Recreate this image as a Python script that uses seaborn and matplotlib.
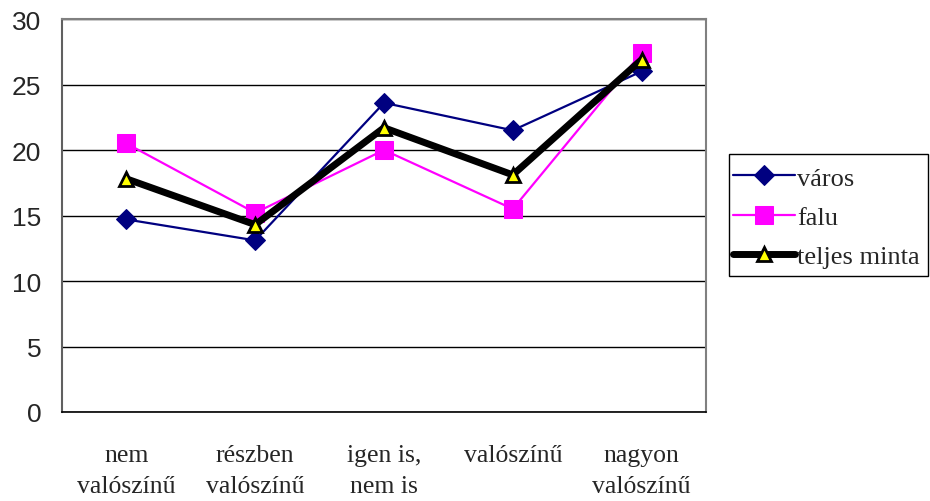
import matplotlib
matplotlib.use("Agg")
import matplotlib.pyplot as plt
import seaborn as sns
import pandas as pd
from matplotlib.patches import Rectangle

# === Data ===
categories = ["nem\nvalószínű", "részben\nvalószínű", "igen is,\nnem is", "valószínű", "nagyon\nvalószínű"]
varos = [14.7, 13.1, 23.6, 21.5, 26.0]
falu = [20.5, 15.2, 20.0, 15.5, 27.4]
teljes = [17.8, 14.3, 21.7, 18.1, 26.9]

pos = list(range(len(categories)))
df = pd.DataFrame({"x": pos * 3,
                   "value": varos + falu + teljes,
                   "series": ["város"] * 5 + ["falu"] * 5 + ["teljes minta"] * 5})

sns.set_style("white")

fig = plt.figure(figsize=(9.3, 5.02), dpi=100)
ax = fig.add_axes([62 / 930, 1 - 413 / 502, (706 - 62) / 930, (413 - 20) / 502])

# one call per series so each gets its own width / marker
sns.lineplot(data=df[df.series == "város"], x="x", y="value", ax=ax, color="#000080",
             linewidth=1.6, marker="D", markersize=10.5, markeredgecolor="#000080", label="város")
sns.lineplot(data=df[df.series == "falu"], x="x", y="value", ax=ax, color="#FF00FF",
             linewidth=1.6, marker="s", markersize=12.5, markeredgecolor="#FF00FF", label="falu")
sns.lineplot(data=df[df.series == "teljes minta"], x="x", y="value", ax=ax, color="black",
             linewidth=5, marker="^", markersize=10, markerfacecolor="#FFFF00",
             markeredgecolor="black", markeredgewidth=2, label="teljes minta")

ax.set_xlim(-0.5, len(categories) - 0.5)
ax.set_ylim(0, 30)
ax.set_yticks(range(0, 31, 5))
ax.yaxis.grid(True, color="black", linewidth=1)
ax.set_axisbelow(True)

ax.set_xticks(pos)
ax.set_xticklabels(categories, family="Liberation Serif", fontsize=18.5, linespacing=1.55)
ax.set_xticks([p - 0.5 for p in pos] + [len(pos) - 0.5], minor=True)
ax.tick_params(axis="x", which="major", length=0, pad=23)
ax.tick_params(axis="x", which="minor", length=8, width=1, color="black", direction="out")
ax.tick_params(axis="y", length=8, width=1, color="black", direction="out", pad=7)
for lab in ax.get_yticklabels():
    lab.set_family("Liberation Sans")
    lab.set_fontsize(19)

ax.set_xlabel("")
ax.set_ylabel("")

for side in ["top", "right"]:
    ax.spines[side].set_color("#808080")
    ax.spines[side].set_linewidth(1.5)
ax.spines["left"].set_color("#606060")
ax.spines["left"].set_linewidth(1.5)
ax.spines["bottom"].set_color("black")
ax.spines["bottom"].set_linewidth(1.2)

# legend: box drawn separately so its padding matches the original
handles, labels = ax.get_legend_handles_labels()
ax.get_legend().remove()
fig.patches.append(Rectangle((729 / 930, 1 - 277 / 502), 199 / 930, 122 / 502,
                             transform=fig.transFigure, fill=False,
                             edgecolor="black", linewidth=1))
fig.legend(handles, labels, loc="center left", bbox_to_anchor=(733 / 930, 1 - 218 / 502),
           borderaxespad=0, borderpad=0, frameon=False, handlelength=2.35,
           handletextpad=0.08, labelspacing=0.59,
           prop={"family": "Liberation Serif", "size": 19})

fig.savefig("out.png", dpi=100)
